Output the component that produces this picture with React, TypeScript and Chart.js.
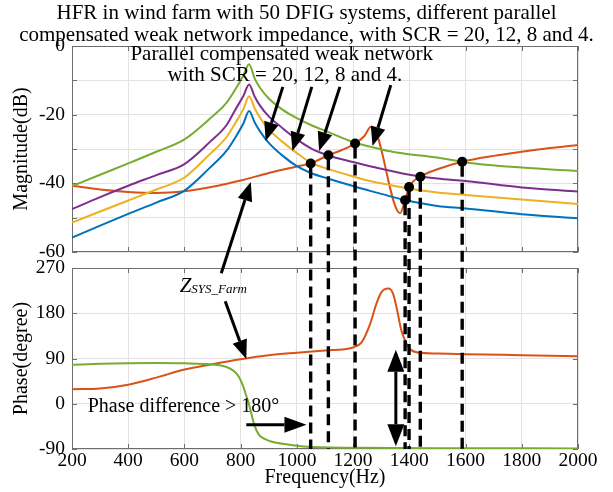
import React, { useEffect, useRef } from 'react';
import { Chart, registerables } from 'chart.js';

Chart.register(...registerables);

const SERIF = '"Liberation Serif", "Times New Roman", Times, serif';

const titleLines = [
  'HFR in wind farm with 50 DFIG systems, different parallel',
  'compensated weak network impedance, with SCR = 20, 12, 8 and 4.',
];
const xLabel = 'Frequency(Hz)';
const magLabel = 'Magnitude(dB)';
const phaseLabel = 'Phase(degree)';

const freqMin = 200;
const freqMax = 2000;
const freqStep = 200;
const magMin = -60;
const magMax = 0;
const magStep = 10;
const magLabelStep = 20;
const phaseMin = -90;
const phaseMax = 270;
const phaseStep = 90;

// weak network magnitude (dB) for SCR = 4, 8, 12, 20
const scrFreq = [200, 300, 400, 500, 600, 690, 750, 782, 810, 830, 850, 870, 900, 950, 1000, 1050, 1110, 1200, 1260, 1320, 1380, 1500, 1600, 1800, 2000];
const magScr4 = [-40.8, -37.5, -34.2, -30.8, -27.2, -21.2, -16.5, -12.5, -8.5, -5.3, -9.5, -12.3, -15.3, -18.6, -21.0, -23.0, -25.0, -28.0, -29.3, -30.5, -31.3, -32.5, -33.9, -35.4, -36.4];
const magScr8 = [-47.5, -44.0, -40.7, -37.6, -34.4, -28.0, -23.0, -18.4, -14.5, -11.2, -14.8, -17.5, -20.5, -24.0, -27.2, -29.8, -31.8, -33.8, -35.0, -36.1, -37.2, -38.6, -39.3, -41.2, -42.4];
const magScr12 = [-51.4, -48.2, -45.0, -41.8, -38.3, -31.5, -26.5, -22.3, -18.3, -14.6, -18.2, -21.0, -24.3, -28.0, -31.2, -34.0, -35.8, -38.0, -39.3, -40.3, -41.3, -42.7, -43.4, -44.7, -46.0];
const magScr20 = [-55.8, -52.3, -48.9, -45.6, -42.1, -35.5, -30.5, -26.5, -22.5, -18.9, -22.3, -25.0, -28.2, -32.0, -35.0, -37.0, -38.6, -40.8, -42.2, -43.5, -44.8, -46.6, -47.3, -49.0, -50.2];

// Z_SYS_Farm magnitude
const farmMagFreq = [200, 300, 400, 500, 600, 700, 800, 900, 1000, 1049, 1112, 1160, 1207, 1240, 1263, 1272, 1367, 1385, 1399, 1439, 1500, 1588, 1700, 1800, 1900, 2000];
const farmMagDb = [-40.7, -41.8, -42.5, -42.8, -42.3, -41.0, -39.2, -37.0, -35.1, -34.2, -31.8, -30.3, -28.4, -26.2, -23.6, -23.8, -48.7, -44.9, -41.1, -38.1, -35.9, -33.7, -32.0, -30.8, -29.7, -28.8];

// Z_SYS_Farm phase
const farmPhaseFreq = [200, 300, 400, 500, 600, 700, 800, 900, 1000, 1100, 1200, 1230, 1260, 1283, 1301, 1325, 1342, 1357, 1372, 1388, 1402, 1430, 1500, 1600, 1800, 2000];
const farmPhaseDeg = [28.7, 30.5, 38, 52, 68, 78.7, 88.5, 96.5, 101.5, 106, 112, 122, 158, 199, 222, 229, 219, 185, 145, 122, 109, 102, 100, 98.7, 96.7, 94.7];

// weak network phase
const gridPhaseFreq = [200, 300, 400, 500, 600, 690, 750, 778, 795, 810, 818, 828, 836, 848, 864, 885, 908, 968, 1025, 1200, 1600, 2000];
const gridPhaseDeg = [77.5, 79.5, 80.5, 81, 80.5, 78.5, 73, 64, 52, 33, 19, 2, -15, -41, -61, -70, -75, -81, -85, -87.5, -88.5, -88.8];

// intersection markers
const dotFreq = [1049, 1112, 1207, 1385, 1399, 1439, 1588];
const dotDb = [-34.2, -31.8, -28.4, -44.9, -41.1, -38.1, -33.7];

// annotation anchors (data coordinates)
const scrArrowFrom = [[950, -11.9], [1053, -11.9], [1153, -11.9], [1334, -11.4]];
const scrArrowTo = [[889, -27.7], [984, -30.6], [1079, -30.6], [1269, -29.1]];
const scrNoteLines = ['Parallel compensated weak network', 'with SCR = 20, 12, 8 and 4.'];
const scrNoteAt = [[946, -4.1], [957, -10.1]];
const zLabelMain = 'Z';
const zLabelSub = 'SYS_Farm';
const zLabelAt = [583, 222];
const zUpFromPhase = [731, 259.5];
const zUpToMag = [836, -39.6];
const zDownFrom = [745, 204];
const zDownTo = [820, 89];
const phaseNote = 'Phase difference > 180°';
const phaseNoteAt = [256, -16.4];
const phaseArrowFrom = [820, -41.6];
const phaseArrowTo = [1034, -41.6];
const dblArrowFreq = 1352;
const dblArrowFrom = -84.6;
const dblArrowTo = 107.5;

const COLORS = {
  blue: '#0072BD',
  orange: '#D95319',
  yellow: '#EDB120',
  purple: '#7E2F8E',
  green: '#77AC30',
};

const pts = (xs: number[], ys: number[]) => xs.map((x, i) => ({ x, y: ys[i] }));

function drawArrow(ctx: CanvasRenderingContext2D, x1: number, y1: number, x2: number, y2: number, head = 19, hw = 7.5) {
  const a = Math.atan2(y2 - y1, x2 - x1);
  const bx = x2 - head * Math.cos(a);
  const by = y2 - head * Math.sin(a);
  ctx.beginPath();
  ctx.moveTo(x1, y1);
  ctx.lineTo(bx, by);
  ctx.stroke();
  ctx.beginPath();
  ctx.moveTo(x2, y2);
  ctx.lineTo(bx + hw * Math.sin(a), by - hw * Math.cos(a));
  ctx.lineTo(bx - hw * Math.sin(a), by + hw * Math.cos(a));
  ctx.closePath();
  ctx.fill();
}

const framePlugin = {
  id: 'framePlugin',
  beforeDatasetsDraw(chart: any) {
    const { ctx, scales } = chart;
    const x = scales.x;
    const ym = scales.yMag;
    const yp = scales.yPhase;
    ctx.save();
    ctx.fillStyle = '#ffffff';
    ctx.fillRect(x.left - 2, ym.bottom + 1, x.right - x.left + 4, yp.top - ym.bottom - 1);
    ctx.strokeStyle = '#6e6e6e';
    ctx.lineWidth = 1;
    for (const y of [ym, yp]) {
      ctx.strokeRect(Math.round(x.left) + 0.5, Math.round(y.top) + 0.5, Math.round(x.right - x.left) - 1, Math.round(y.bottom - y.top) - 1);
      ctx.beginPath();
      for (const t of x.ticks) {
        const px = Math.round(x.getPixelForValue(t.value)) + 0.5;
        ctx.moveTo(px, y.top);
        ctx.lineTo(px, y.top + 5);
        ctx.moveTo(px, y.bottom);
        ctx.lineTo(px, y.bottom - 5);
      }
      for (const t of y.ticks) {
        const py = Math.round(y.getPixelForValue(t.value)) + 0.5;
        ctx.moveTo(x.left, py);
        ctx.lineTo(x.left + 5, py);
        ctx.moveTo(x.right, py);
        ctx.lineTo(x.right - 5, py);
      }
      ctx.stroke();
    }
    ctx.restore();
  },
  afterDatasetsDraw(chart: any) {
    const { ctx, scales } = chart;
    const x = scales.x;
    const ym = scales.yMag;
    const yp = scales.yPhase;
    ctx.save();
    ctx.fillStyle = '#000';
    ctx.strokeStyle = '#000';

    // dashed drop lines
    ctx.lineWidth = 3.4;
    ctx.setLineDash([11, 6]);
    const yBottom = yp.getPixelForValue(phaseMin);
    dotFreq.forEach((f, i) => {
      const px = x.getPixelForValue(f);
      ctx.beginPath();
      ctx.moveTo(px, ym.getPixelForValue(dotDb[i]) + 4);
      ctx.lineTo(px, yBottom);
      ctx.stroke();
    });
    ctx.setLineDash([]);
    dotFreq.forEach((f, i) => {
      ctx.beginPath();
      ctx.arc(x.getPixelForValue(f), ym.getPixelForValue(dotDb[i]), 5, 0, Math.PI * 2);
      ctx.fill();
    });

    // arrows
    ctx.lineWidth = 3;
    scrArrowFrom.forEach((p, i) => {
      const q = scrArrowTo[i];
      drawArrow(ctx, x.getPixelForValue(p[0]), ym.getPixelForValue(p[1]), x.getPixelForValue(q[0]), ym.getPixelForValue(q[1]));
    });
    drawArrow(ctx, x.getPixelForValue(zUpFromPhase[0]), yp.getPixelForValue(zUpFromPhase[1]), x.getPixelForValue(zUpToMag[0]), ym.getPixelForValue(zUpToMag[1]));
    drawArrow(ctx, x.getPixelForValue(zDownFrom[0]), yp.getPixelForValue(zDownFrom[1]), x.getPixelForValue(zDownTo[0]), yp.getPixelForValue(zDownTo[1]));
    drawArrow(ctx, x.getPixelForValue(phaseArrowFrom[0]), yp.getPixelForValue(phaseArrowFrom[1]), x.getPixelForValue(phaseArrowTo[0]), yp.getPixelForValue(phaseArrowTo[1]), 22, 8);
    const dx = x.getPixelForValue(dblArrowFreq);
    const dy1 = yp.getPixelForValue(dblArrowFrom);
    const dy2 = yp.getPixelForValue(dblArrowTo);
    const mid = (dy1 + dy2) / 2;
    drawArrow(ctx, dx, mid, dx, dy1, 22, 8.5);
    drawArrow(ctx, dx, mid, dx, dy2, 22, 8.5);

    // texts
    ctx.textBaseline = 'alphabetic';
    ctx.font = `21px ${SERIF}`;
    ctx.textAlign = 'center';
    scrNoteLines.forEach((t, i) => {
      ctx.fillText(t, x.getPixelForValue(scrNoteAt[i][0]), ym.getPixelForValue(scrNoteAt[i][1]));
    });
    ctx.font = `20px ${SERIF}`;
    ctx.textAlign = 'left';
    ctx.fillText(phaseNote, x.getPixelForValue(phaseNoteAt[0]), yp.getPixelForValue(phaseNoteAt[1]));
    const zx = x.getPixelForValue(zLabelAt[0]);
    const zy = yp.getPixelForValue(zLabelAt[1]);
    ctx.font = `italic 21px ${SERIF}`;
    ctx.fillText(zLabelMain, zx, zy);
    const zw = ctx.measureText(zLabelMain).width;
    ctx.font = `italic 13px ${SERIF}`;
    ctx.fillText(zLabelSub, zx + zw, zy + 1);
    ctx.restore();
  },
};

export default function App() {
  const ref = useRef<HTMLCanvasElement>(null);
  useEffect(() => {
    if (!ref.current) return;
    const tickFont = { family: SERIF, size: 19.5 };
    const axisTitleFont = { family: SERIF, size: 20 };
    const line = (label: string, data: any, color: string, axis: string) => ({
      label,
      data,
      borderColor: color,
      backgroundColor: color,
      borderWidth: 2,
      pointRadius: 0,
      fill: false,
      cubicInterpolationMode: 'monotone' as const,
      xAxisID: 'x',
      yAxisID: axis,
    });
    const chart = new Chart(ref.current, {
      type: 'line',
      data: {
        datasets: [
          line('SCR = 20', pts(scrFreq, magScr20), COLORS.blue, 'yMag'),
          line('SCR = 12', pts(scrFreq, magScr12), COLORS.yellow, 'yMag'),
          line('SCR = 8', pts(scrFreq, magScr8), COLORS.purple, 'yMag'),
          line('SCR = 4', pts(scrFreq, magScr4), COLORS.green, 'yMag'),
          line('Z_SYS_Farm', pts(farmMagFreq, farmMagDb), COLORS.orange, 'yMag'),
          line('Grid phase', pts(gridPhaseFreq, gridPhaseDeg), COLORS.green, 'yPhase'),
          line('Z_SYS_Farm phase', pts(farmPhaseFreq, farmPhaseDeg), COLORS.orange, 'yPhase'),
        ],
      },
      options: {
        animation: false,
        responsive: false,
        devicePixelRatio: 1,
        events: [],
        layout: { padding: 0 },
        plugins: {
          legend: { display: false },
          tooltip: { enabled: false },
          title: {
            display: true,
            text: titleLines,
            color: '#000',
            font: { family: SERIF, size: 21, weight: 'normal', lineHeight: 22 / 21 },
            padding: { top: 2, bottom: 0 },
          },
        },
        scales: {
          x: {
            type: 'linear',
            position: 'bottom',
            min: freqMin,
            max: freqMax,
            ticks: { stepSize: freqStep, autoSkip: false, maxRotation: 0, color: '#000', font: tickFont, padding: 0, callback: (v: any) => String(v) },
            grid: { color: '#e2e2e2', drawTicks: false },
            border: { display: false },
            title: { display: true, text: xLabel, color: '#000', font: axisTitleFont, padding: { top: 0, bottom: 2 } },
            afterFit: (s: any) => { s.height = 43; },
          },
          yPhase: {
            type: 'linear',
            position: 'left',
            stack: 'v',
            stackWeight: 181,
            min: phaseMin,
            max: phaseMax,
            ticks: { stepSize: phaseStep, autoSkip: false, color: '#000', font: tickFont, padding: 7, callback: (v: any) => String(v) },
            grid: { color: '#e2e2e2', drawTicks: false },
            border: { display: false },
            title: { display: true, text: phaseLabel, color: '#000', font: axisTitleFont, padding: { top: 10, bottom: 0 } },
            afterFit: (s: any) => { s.width = 72; },
          },
          yGap: {
            type: 'linear',
            position: 'left',
            stack: 'v',
            stackWeight: 16,
            min: 0,
            max: 1,
            ticks: { display: false },
            grid: { display: false },
            border: { display: false },
            afterFit: (s: any) => { s.width = 72; },
          },
          yMag: {
            type: 'linear',
            position: 'left',
            stack: 'v',
            stackWeight: 206,
            min: magMin,
            max: magMax,
            ticks: {
              stepSize: magStep,
              autoSkip: false,
              color: '#000',
              font: tickFont,
              padding: 7,
              callback: (v: any) => (Number(v) % magLabelStep === 0 ? String(v) : ''),
            },
            grid: { color: '#e2e2e2', drawTicks: false },
            border: { display: false },
            title: { display: true, text: magLabel, color: '#000', font: axisTitleFont, padding: { top: 10, bottom: 0 } },
            afterFit: (s: any) => { s.width = 72; },
          },
          yRightSpace: {
            type: 'linear',
            position: 'right',
            min: 0,
            max: 1,
            ticks: { display: false },
            grid: { display: false },
            border: { display: false },
            afterFit: (s: any) => { s.width = 35; },
          },
        },
      },
      plugins: [framePlugin],
    } as any);
    return () => chart.destroy();
  }, []);
  return (
    <div style={{ position: 'fixed', left: 0, top: 0, width: 613, height: 492, background: '#fff' }}>
      <canvas ref={ref} width={613} height={492} style={{ display: 'block', width: 613, height: 492 }} />
    </div>
  );
}
